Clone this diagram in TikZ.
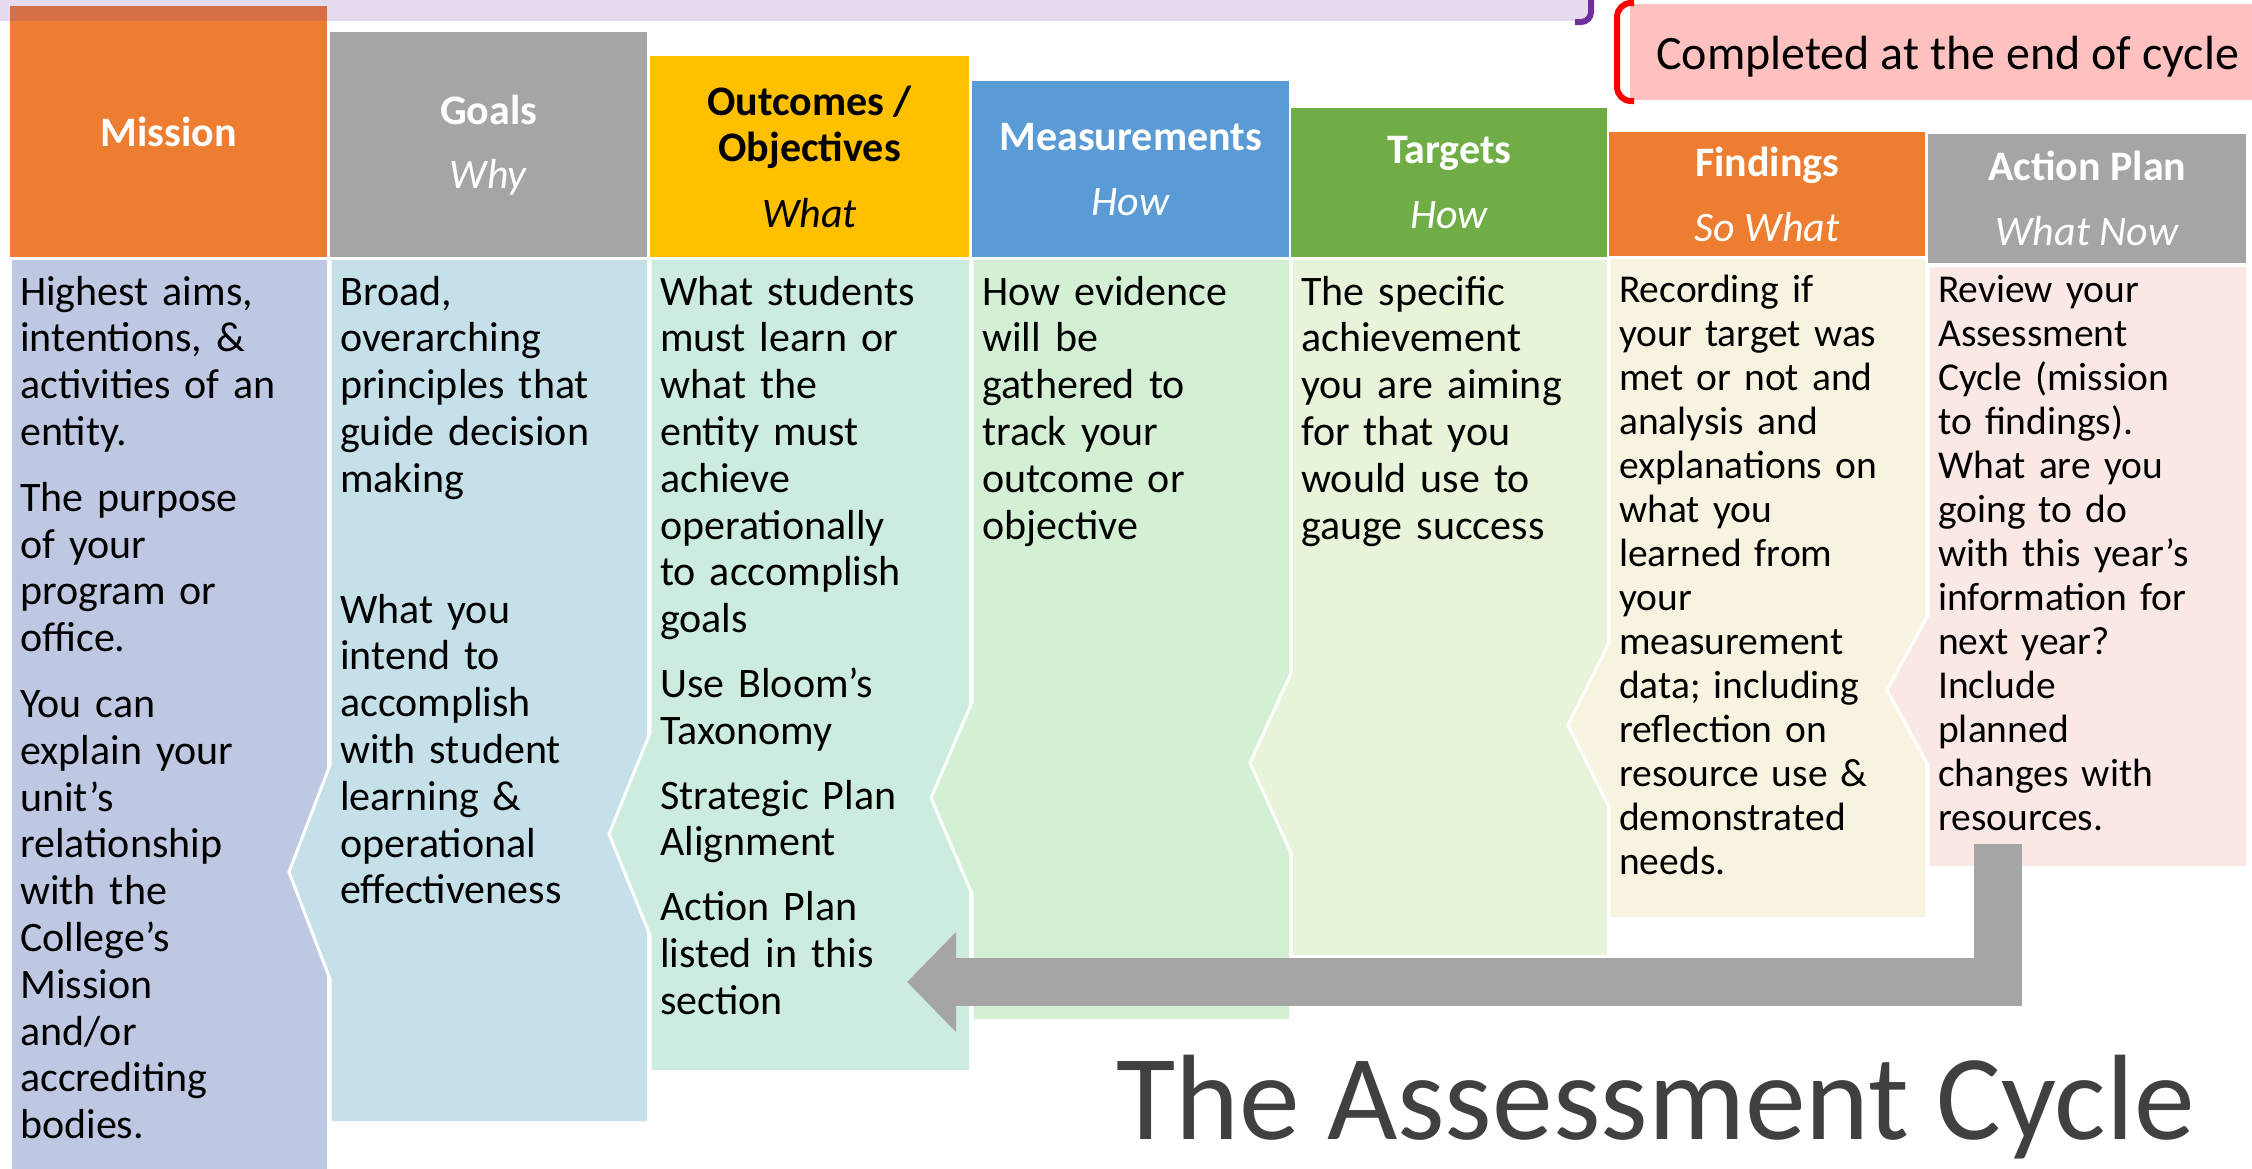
\documentclass[tikz,border=0pt]{standalone}
\usepackage{fontspec}
\setmainfont{Carlito}
\usetikzlibrary{arrows.meta}

\definecolor{missionorange}{HTML}{ED7D31}
\definecolor{goalgray}{HTML}{A5A5A5}
\definecolor{outgold}{HTML}{FFC000}
\definecolor{measblue}{HTML}{5B9BD5}
\definecolor{targgreen}{HTML}{70AD47}
\definecolor{missionbody}{HTML}{BFC8E3}
\definecolor{goalbody}{HTML}{C5E0E8}
\definecolor{outbody}{HTML}{CCECDE}
\definecolor{measbody}{HTML}{D3F0D4}
\definecolor{targbody}{HTML}{E8F4D9}
\definecolor{findbody}{HTML}{F8F2E0}
\definecolor{planbody}{HTML}{FAE8E4}
\definecolor{cyclepink}{HTML}{FFC0C0}
\definecolor{bracketpurple}{HTML}{7030A0}
\definecolor{titlegray}{HTML}{404040}

\tikzset{
  header/.style={anchor=north west, inner sep=0pt, align=center,
    font=\fontsize{42}{46}\selectfont},
  bodytext/.style={anchor=base west, inner sep=0pt, align=left, text width=300pt,
    font=\fontsize{42}{46.8}\selectfont},
  smalltext/.style={bodytext, font=\fontsize{39.5}{44}\selectfont},
}

\begin{document}
\begin{tikzpicture}[x=1pt, y=-1pt]
  \useasboundingbox (0,0) rectangle (2252,1168);
  \pgfmathsetmacro{\chevdepth}{41};

  % Columns: header box, body with notch
  \foreach \id/\xl/\xr/\htop/\hbot/\btop/\bbot/\tipy/\tiph/\dep/\hcol/\bcol/\tcol/\head in {%
    mission/10/327/6/257/260/1190/700/0/0/missionorange/missionbody/white/{\textbf{Mission}},%
    goals/330/647/32/257/260/1121/872/107/\chevdepth/goalgray/goalbody/white/{\textbf{Goals}\\[18pt]\textit{Why}},%
    outcomes/650/969/56/257/260/1070/834/101/\chevdepth/outgold/outbody/black/{\textbf{Outcomes /}\\\textbf{Objectives}\\[20pt]\textit{What}},%
    measures/972/1289/81/257/260/1019/798/96/\chevdepth/measblue/measbody/white/{\textbf{Measurements}\\[19pt]\textit{How}},%
    targets/1291/1607/108/257/260/955/763/90/\chevdepth/targgreen/targbody/white/{\textbf{Targets}\\[19pt]\textit{How}},%
    findings/1609/1925/132/256/259/917/725/82/\chevdepth/missionorange/findbody/white/{\textbf{Findings}\\[19pt]\textit{So What}},%
    plan/1928/2246/134/263/267/866/690/75/\chevdepth/goalgray/planbody/white/{\textbf{Action Plan}\\[19pt]\textit{What Now}}%
  }{
    \fill[\bcol] (\xl,\btop) -- (\xr,\btop) -- (\xr,\bbot) -- (\xl,\bbot)
      -- (\xl,\tipy+\tiph) -- (\xl-\dep,\tipy) -- (\xl,\tipy-\tiph) -- cycle;
    \draw[white, line width=3pt] (\xl,\bbot) -- (\xl,\tipy+\tiph)
      -- (\xl-\dep,\tipy) -- (\xl,\tipy-\tiph) -- (\xl,\btop);
    \node[header, fill=\hcol, text=\tcol, minimum width=\xr-\xl,
      minimum height=\hbot-\htop] (h\id) at (\xl,\htop) {\head};
  }

  % Column texts
  \node[bodytext] (tmission) at (20,305) {Highest aims,\\intentions, \&\\activities of an\\entity.\\[19pt]The purpose\\of your\\program or\\office.\\[19pt]You can\\explain your\\unit’s\\relationship\\with the\\College’s\\Mission\\and/or\\accrediting\\bodies.};
  \node[bodytext] (tgoals) at (340,305) {Broad,\\overarching\\principles that\\guide decision\\making\\[84pt]What you\\intend to\\accomplish\\with student\\learning \&\\operational\\effectiveness};
  \node[bodytext] (toutcomes) at (660,305) {What students\\must learn or\\what the\\entity must\\achieve\\operationally\\to accomplish\\goals\\[18pt]Use Bloom’s\\Taxonomy\\[18pt]Strategic Plan\\Alignment\\[18pt]Action Plan\\listed in this\\section};
  \node[bodytext] (tmeasures) at (982,305) {How evidence\\will be\\gathered to\\track your\\outcome or\\objective};
  \node[bodytext] (ttargets) at (1301,305) {The specific\\achievement\\you are aiming\\for that you\\would use to\\gauge success};
  \node[smalltext] (tfindings) at (1619,302) {Recording if\\your target was\\met or not and\\analysis and\\explanations on\\what you\\learned from\\your\\measurement\\data; including\\reflection on\\resource use \&\\demonstrated\\needs.};
  \node[smalltext] (tplan) at (1938,302) {Review your\\Assessment\\Cycle (mission\\to findings).\\What are you\\going to do\\with this year’s\\information for\\next year?\\Include\\planned\\changes with\\resources.};

  % Top bands
  \fill[bracketpurple, opacity=0.18] (0,0) rectangle (1591,21);
  \draw[bracketpurple, line width=6pt, rounded corners=10pt] (1591,-6) -- (1591,22) -- (1575,22);
  \fill[cyclepink] (1630,4) rectangle (2252,100);
  \draw[red, line width=6pt, rounded corners=14pt] (1634,3) -- (1617,3) -- (1617,101) -- (1634,101);
  \node[anchor=west, inner sep=0pt, font=\fontsize{48}{52}\selectfont] (cycleend) at (1656,57) {Completed at the end of cycle};

  % Feedback arrow
  \coordinate (loopstart) at (1998,844);
  \coordinate (looptip) at (907,982);
  \draw[goalgray, line width=48pt, -{Triangle[length=49pt,width=97pt]}] (loopstart) |- (looptip);

  \node[anchor=base west, inner sep=0pt, text=titlegray,
    font=\fontsize{121.5}{122}\selectfont] (title) at (1116,1139) {The Assessment Cycle};
\end{tikzpicture}
\end{document}
